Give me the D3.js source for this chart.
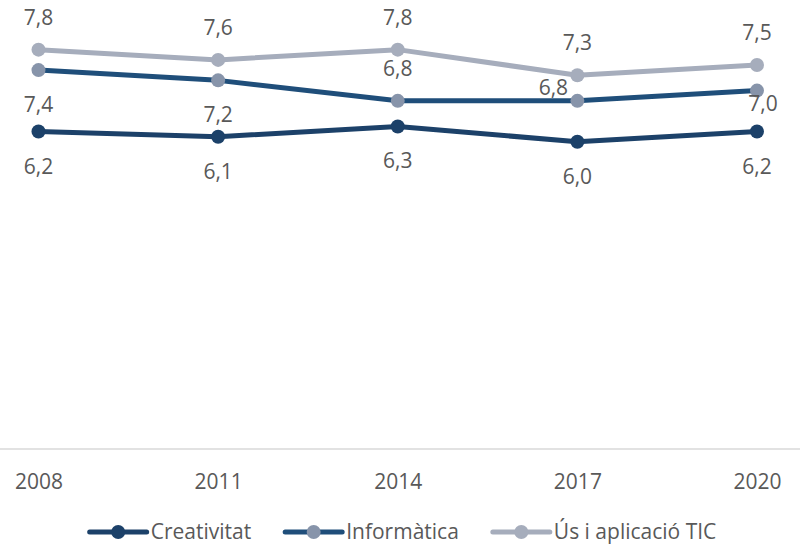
<!DOCTYPE html>
<html>
<head>
<meta charset="utf-8">
<script src="https://cdn.jsdelivr.net/npm/d3@7"></script>
<style>
  html, body { margin: 0; padding: 0; background: #ffffff; }
  svg { display: block; }
  text { font-family: "Open Sans", "Liberation Sans", sans-serif; fill: #595959; }
</style>
</head>
<body>
<svg id="chart" width="800" height="545"></svg>
<script>
// Years on the horizontal axis
const years = ["2008", "2011", "2014", "2017", "2020"];

// Average scores per competence
const creativitat = [6.2, 6.1, 6.3, 6.0, 6.2];
const informatica = [7.4, 7.2, 6.8, 6.8, 7.0];
const usTic = [7.8, 7.6, 7.8, 7.3, 7.5];

const seriesNames = ["Creativitat", "Informàtica", "Ús i aplicació TIC"];

// Where each value label sits relative to its point
const creativitatLabelPos = ["below", "below", "below", "below", "below"];
const informaticaLabelPos = ["below", "below", "above", "left", "right"];
const usTicLabelPos = ["above", "above", "above", "above", "above"];

const series = [
  { name: seriesNames[0], values: creativitat, labelPos: creativitatLabelPos, line: "#1c4169", marker: "#1c4169" },
  { name: seriesNames[1], values: informatica, labelPos: informaticaLabelPos, line: "#1f4e7a", marker: "#8794aa" },
  { name: seriesNames[2], values: usTic, labelPos: usTicLabelPos, line: "#a6adbc", marker: "#a6adbc" }
];

const svg = d3.select("#chart");
const width = 800;
const baselineY = 449;

const x = d3.scalePoint().domain(years).range([38.5, 757]).padding(0);
const y = d3.scaleLinear().domain([0, 8]).range([baselineY, baselineY - 8 * 51.2]);

// Horizontal category axis
const xAxis = d3.axisBottom(x).tickSize(0).tickPadding(0);
const axisG = svg.append("g").attr("transform", `translate(0,${baselineY})`).call(xAxis);
axisG.select(".domain").remove();
axisG.selectAll("text")
  .attr("y", 40)
  .attr("dy", null)
  .style("font-size", "21px")
  .style("font-family", "'Open Sans', 'Liberation Sans', sans-serif")
  .attr("fill", "#595959");
svg.append("line")
  .attr("x1", 0).attr("x2", width)
  .attr("y1", baselineY).attr("y2", baselineY)
  .attr("stroke", "#d9d9d9").attr("stroke-width", 1.5);

const line = d3.line()
  .x((d, i) => x(years[i]))
  .y(d => y(d));

// Lines with their round markers
series.forEach(s => {
  const g = svg.append("g");
  g.append("path")
    .datum(s.values)
    .attr("d", line)
    .attr("fill", "none")
    .attr("stroke", s.line)
    .attr("stroke-width", 5)
    .attr("stroke-linejoin", "round")
    .attr("stroke-linecap", "round");
  g.selectAll("circle")
    .data(s.values)
    .join("circle")
    .attr("cx", (d, i) => x(years[i]))
    .attr("cy", d => y(d))
    .attr("r", 7)
    .attr("fill", s.marker);
});

// Value labels
const fmt = v => d3.format(".1f")(v).replace(".", ",");
const offsets = {
  above: [0, -25],
  below: [0, 42],
  left: [-24, -6],
  right: [6, 20]
};
series.forEach(s => {
  svg.append("g").selectAll("text")
    .data(s.values)
    .join("text")
    .attr("x", (d, i) => x(years[i]) + offsets[s.labelPos[i]][0])
    .attr("y", (d, i) => y(d) + offsets[s.labelPos[i]][1])
    .attr("text-anchor", "middle")
    .style("font-size", "21px")
    .text(d => fmt(d));
});

// Legend, centred under the chart
const legend = svg.append("g");
const legendY = 532;
const swatchW = 57;
const textGap = 4;
const itemGap = 34;
let cursor = 0;
series.forEach(s => {
  const g = legend.append("g").attr("transform", `translate(${cursor},0)`);
  g.append("line")
    .attr("x1", 0).attr("x2", swatchW)
    .attr("y1", legendY).attr("y2", legendY)
    .attr("stroke", s.line).attr("stroke-width", 5).attr("stroke-linecap", "round");
  g.append("circle")
    .attr("cx", swatchW / 2).attr("cy", legendY).attr("r", 7)
    .attr("fill", s.marker);
  const t = g.append("text")
    .attr("x", swatchW + textGap)
    .attr("y", legendY + 7)
    .style("font-size", "21px")
    .text(s.name);
  const w = t.node().getComputedTextLength();
  cursor += swatchW + textGap + w + itemGap;
});
const legendWidth = cursor - itemGap;
legend.attr("transform", `translate(${(width - legendWidth) / 2 + 3},0)`);
</script>
</body>
</html>
